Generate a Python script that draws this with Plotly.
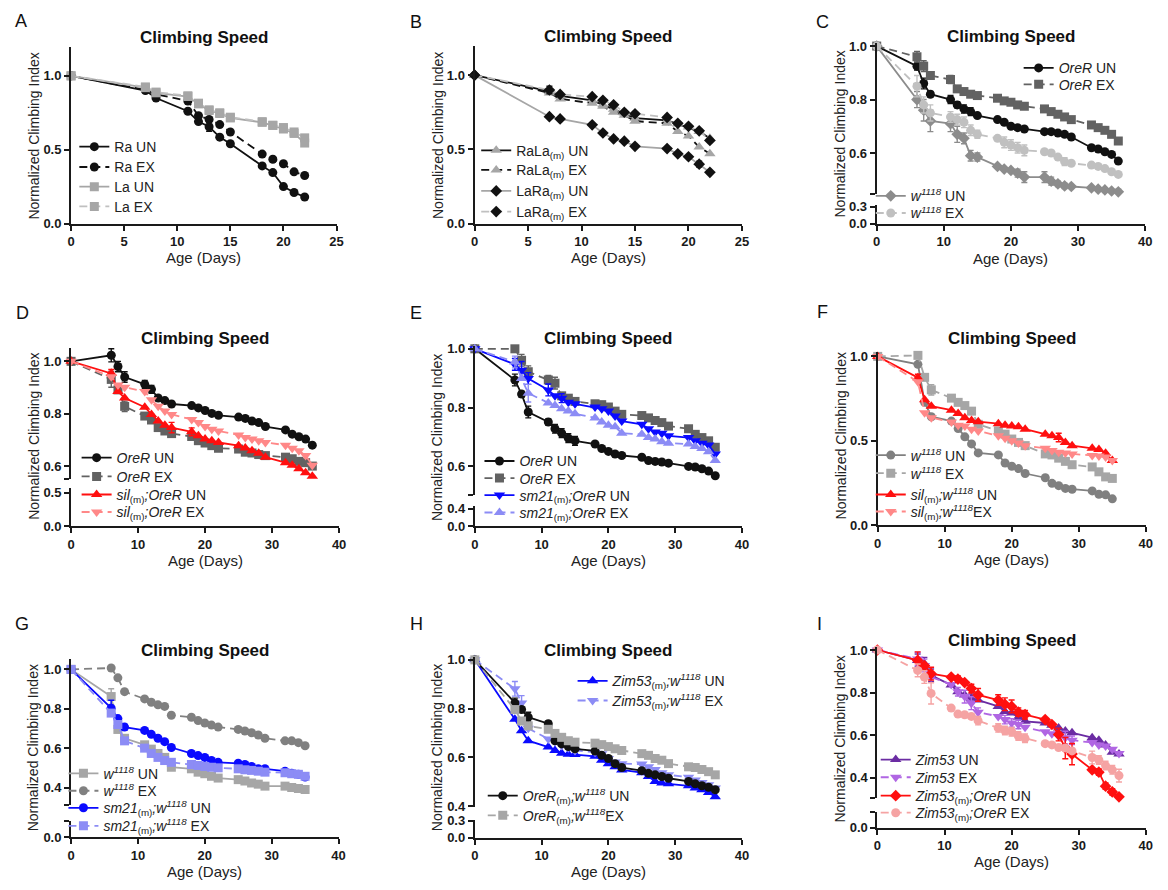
import plotly.graph_objects as go

W, H = 1168, 890
FONT = "Liberation Sans, Arial, sans-serif"

# ---------------- data ----------------
days_22 = [0, 7, 8, 11, 12, 13, 14, 15, 18, 19, 20, 21, 22]
days_36 = [0, 6, 7, 8, 11, 12, 13, 14, 15, 18, 19, 20, 21, 22, 25, 26, 27, 28, 29, 32, 33, 34, 35, 36]
days_35 = [0, 6, 7, 8, 11, 12, 13, 14, 15, 18, 19, 20, 21, 22, 25, 26, 27, 28, 29, 32, 33, 34, 35]

# A
A_ra_un = [1.0, 0.90, 0.85, 0.76, 0.69, 0.655, 0.585, 0.54, 0.39, 0.345, 0.25, 0.21, 0.18]
A_ra_ex = [1.0, 0.905, 0.875, 0.83, 0.73, 0.705, 0.67, 0.62, 0.47, 0.435, 0.405, 0.35, 0.325]
A_la_un = [1.0, 0.92, 0.885, 0.86, 0.81, 0.765, 0.745, 0.715, 0.685, 0.665, 0.64, 0.61, 0.545]
A_la_ex = [1.0, 0.925, 0.89, 0.865, 0.815, 0.77, 0.75, 0.72, 0.69, 0.665, 0.65, 0.62, 0.58]
A_ra_un_err = [0, 0, 0.01, 0, 0, 0.03, 0, 0, 0, 0, 0, 0, 0]
# B
B_rala_un = [1.0, 0.89, 0.86, 0.83, 0.80, 0.77, 0.745, 0.71, 0.695, 0.67, 0.65, 0.62, 0.575]
B_rala_ex = [1.0, 0.88, 0.84, 0.81, 0.79, 0.75, 0.73, 0.69, 0.675, 0.62, 0.59, 0.515, 0.47]
B_lara_un = [1.0, 0.72, 0.705, 0.665, 0.61, 0.57, 0.555, 0.52, 0.505, 0.47, 0.45, 0.40, 0.345]
B_lara_ex = [1.0, 0.90, 0.87, 0.855, 0.83, 0.80, 0.75, 0.74, 0.715, 0.675, 0.655, 0.625, 0.56]
B_lara_un_err = [0, 0.01, 0, 0, 0, 0, 0, 0, 0, 0, 0, 0.02, 0]
B_lara_ex_err = [0, 0.025, 0.01, 0, 0, 0.01, 0, 0, 0, 0, 0, 0.01, 0]
# C
C_orer_un = [1.0, 0.925, 0.86, 0.82, 0.80, 0.78, 0.765, 0.755, 0.74, 0.725, 0.715, 0.70, 0.695, 0.69,
             0.68, 0.68, 0.675, 0.67, 0.66, 0.62, 0.615, 0.605, 0.595, 0.57]
C_orer_ex = [1.0, 0.96, 0.925, 0.89, 0.875, 0.84, 0.83, 0.82, 0.815, 0.805, 0.795, 0.79, 0.78, 0.775,
             0.765, 0.755, 0.745, 0.735, 0.725, 0.705, 0.695, 0.685, 0.67, 0.645]
C_w_un = [1.0, 0.80, 0.76, 0.72, 0.71, 0.67, 0.655, 0.59, 0.585, 0.55, 0.54, 0.535, 0.525, 0.51,
          0.51, 0.495, 0.485, 0.477, 0.475, 0.47, 0.465, 0.462, 0.458, 0.455]
C_w_ex = [1.0, 0.85, 0.78, 0.75, 0.735, 0.725, 0.715, 0.685, 0.67, 0.655, 0.64, 0.63, 0.62, 0.61,
          0.605, 0.60, 0.585, 0.568, 0.562, 0.555, 0.55, 0.542, 0.53, 0.52]
C_orer_un_err = [0, .015, .02, .01, .015, .012, .015, .015, 0, 0, 0, 0, 0, 0, 0, 0, 0, 0, 0, 0, 0, 0, 0, 0]
C_orer_ex_err = [0, .02, .02, .012, .015, 0, 0, 0, 0, 0, 0, 0, 0, 0, 0, 0, 0, 0, 0, 0, 0, 0, 0, 0]
C_w_un_err = [0, .03, .04, .04, .03, .03, .02, .02, .015, 0, 0, 0, .015, .02, .02, .015, .01, .01, 0, 0, 0, 0, 0, .01]
C_w_ex_err = [0, .04, .03, .03, .02, .02, .02, .02, .015, 0, .02, .02, .02, .02, 0, 0, 0, .015, 0, 0, 0, 0, 0, 0]
# D
D_orer_un = [1.0, 1.023, 0.98, 0.94, 0.912, 0.893, 0.86, 0.85, 0.837, 0.831, 0.822, 0.812, 0.801, 0.794,
             0.787, 0.782, 0.772, 0.766, 0.751, 0.738, 0.722, 0.712, 0.703, 0.68]
D_orer_ex = [1.0, 0.931, 0.891, 0.828, 0.791, 0.776, 0.747, 0.734, 0.724, 0.713, 0.697, 0.688, 0.678, 0.668,
             0.665, 0.653, 0.65, 0.644, 0.64, 0.634, 0.628, 0.618, 0.613, 0.60]
D_sil_un = [1.0, 0.954, 0.885, 0.86, 0.825, 0.797, 0.772, 0.756, 0.747, 0.731, 0.716, 0.703, 0.697, 0.69,
            0.678, 0.669, 0.659, 0.649, 0.634, 0.613, 0.603, 0.59, 0.575, 0.561]
D_sil_ex = [1.0, 0.941, 0.91, 0.901, 0.885, 0.853, 0.828, 0.81, 0.797, 0.778, 0.766, 0.751, 0.741, 0.734,
            0.719, 0.709, 0.703, 0.697, 0.69, 0.68, 0.668, 0.659, 0.64, 0.603]
D_orer_un_err = [0, .025, .02, .02, .015, .015, 0, 0, 0, 0, 0, 0, 0, 0, 0, 0, 0, 0, 0, 0, 0, 0, 0, 0]
D_orer_ex_err = [0, .03, 0, .02, 0, 0, 0, 0, 0, 0, 0, 0, 0, 0, 0, 0, 0, 0, 0, 0, 0, 0, 0, 0]
D_sil_un_err = [0, .015, 0, 0, 0, 0, 0, 0, .02, .015, 0, 0, 0, 0, 0, 0, 0, 0, 0, 0, 0, 0, 0, 0]
# E
E_orer_un = [1.0, 0.894, 0.846, 0.785, 0.751, 0.728, 0.713, 0.696, 0.687, 0.676, 0.661, 0.651, 0.642, 0.637,
             0.631, 0.62, 0.617, 0.615, 0.611, 0.60, 0.598, 0.592, 0.584, 0.568]
E_orer_ex = [1.0, 1.0, 0.961, 0.922, 0.894, 0.883, 0.84, 0.832, 0.821, 0.813, 0.81, 0.802, 0.788, 0.777,
             0.773, 0.765, 0.756, 0.749, 0.737, 0.728, 0.709, 0.698, 0.687, 0.665]
E_sm_un = [1.0, 0.947, 0.927, 0.899, 0.86, 0.84, 0.832, 0.818, 0.813, 0.802, 0.796, 0.788, 0.771, 0.754,
           0.743, 0.728, 0.717, 0.713, 0.704, 0.698, 0.687, 0.679, 0.673, 0.642]
E_sm_ex = [1.0, 0.955, 0.899, 0.849, 0.816, 0.807, 0.796, 0.788, 0.779, 0.765, 0.751, 0.74, 0.735, 0.713,
           0.709, 0.698, 0.693, 0.684, 0.679, 0.676, 0.668, 0.661, 0.65, 0.62]
E_orer_un_err = [0, .02, .01, .02, .01, .015, .015, .015, .015, 0, 0, 0, 0, 0, 0, 0, 0, 0, 0, 0, 0, 0, 0, 0]
E_orer_ex_err = [0, 0, .02, .02, .015, .02, 0, 0, 0, 0, 0, 0, 0, 0, 0, 0, 0, 0, 0, 0, 0, 0, 0, 0]
E_sm_un_err = [0, .02, .03, .02, .02, 0, .015, 0, 0, 0, 0, 0, 0, 0, 0, 0, 0, 0, 0, 0, 0, 0, 0, 0]
E_sm_ex_err = [0, .02, 0, .03, 0, 0, 0, 0, 0, 0, 0, 0, 0, 0, 0, 0, 0, 0, 0, 0, 0, 0, 0, 0]
# F
F_w_un = [1.0, 0.953, 0.728, 0.643, 0.617, 0.573, 0.524, 0.482, 0.429, 0.417, 0.369, 0.35, 0.336, 0.307,
          0.282, 0.249, 0.235, 0.219, 0.214, 0.204, 0.184, 0.181, 0.157]
F_w_ex = [1.0, 1.006, 0.876, 0.802, 0.753, 0.728, 0.709, 0.676, 0.598, 0.559, 0.54, 0.511, 0.491, 0.472,
          0.423, 0.417, 0.398, 0.379, 0.359, 0.346, 0.317, 0.287, 0.278]
F_sil_un = [1.0, 0.874, 0.744, 0.705, 0.682, 0.662, 0.637, 0.621, 0.614, 0.602, 0.592, 0.588, 0.584, 0.569,
            0.54, 0.53, 0.52, 0.491, 0.472, 0.456, 0.449, 0.427, 0.384]
F_sil_ex = [1.0, 0.85, 0.666, 0.637, 0.612, 0.592, 0.588, 0.569, 0.559, 0.53, 0.515, 0.501, 0.487, 0.472,
            0.456, 0.443, 0.433, 0.429, 0.423, 0.414, 0.41, 0.404, 0.384]
F_sil_un_err = [0, .02, 0, 0, 0, 0, 0, 0, 0, 0, 0, 0, 0, 0, 0, 0, .025, 0, 0, 0, 0, 0, 0]
F_w_ex_err = [0, 0, 0, .03, 0, 0, 0, 0, 0, 0, 0, 0, 0, 0, 0, 0, 0, 0, 0, 0, 0, 0, 0]
# G
G_w_un = [1.0, 0.862, 0.695, 0.65, 0.617, 0.595, 0.573, 0.553, 0.503, 0.495, 0.478, 0.47, 0.457, 0.448,
          0.44, 0.433, 0.423, 0.417, 0.407, 0.407, 0.40, 0.395, 0.39]
G_w_ex = [1.0, 1.007, 0.957, 0.887, 0.85, 0.833, 0.82, 0.812, 0.767, 0.757, 0.74, 0.728, 0.717, 0.707,
          0.695, 0.687, 0.678, 0.667, 0.65, 0.637, 0.637, 0.628, 0.612]
G_sm_un = [1.0, 0.803, 0.75, 0.707, 0.69, 0.67, 0.65, 0.633, 0.603, 0.573, 0.562, 0.553, 0.537, 0.528,
           0.523, 0.517, 0.507, 0.495, 0.495, 0.483, 0.473, 0.467, 0.453]
G_sm_ex = [1.0, 0.778, 0.72, 0.637, 0.60, 0.573, 0.553, 0.537, 0.528, 0.517, 0.512, 0.507, 0.503, 0.50,
           0.495, 0.49, 0.487, 0.483, 0.478, 0.475, 0.47, 0.467, 0.457]
G_w_un_err = [0, .04, 0, 0, 0, 0, 0, 0, 0, 0, 0, 0, 0, 0, 0, 0, 0, 0, 0, 0, 0, 0, 0]
G_sm_un_err = [0, .04, 0, .015, 0, 0, 0, 0, 0, 0, 0, 0, 0, 0, 0, 0, 0, 0, 0, 0, 0, 0, 0]
# H
H_orer_un = [1.0, 0.823, 0.796, 0.765, 0.738, 0.668, 0.655, 0.644, 0.635, 0.626, 0.608, 0.595, 0.574, 0.558,
             0.545, 0.534, 0.528, 0.521, 0.514, 0.501, 0.491, 0.483, 0.477, 0.467]
H_orer_ex = [1.0, 0.796, 0.749, 0.729, 0.715, 0.698, 0.682, 0.668, 0.662, 0.658, 0.652, 0.644, 0.635, 0.628,
             0.615, 0.608, 0.595, 0.588, 0.574, 0.561, 0.558, 0.55, 0.541, 0.528]
H_zim_un = [1.0, 0.756, 0.709, 0.668, 0.642, 0.628, 0.617, 0.612, 0.611, 0.604, 0.588, 0.574, 0.561, 0.548,
            0.537, 0.521, 0.501, 0.494, 0.491, 0.483, 0.474, 0.467, 0.456, 0.438]
H_zim_ex = [1.0, 0.881, 0.823, 0.719, 0.675, 0.666, 0.648, 0.639, 0.628, 0.621, 0.615, 0.595, 0.581, 0.574,
            0.572, 0.561, 0.55, 0.537, 0.528, 0.518, 0.507, 0.497, 0.487, 0.474]
H_orer_un_err = [0, .02, .01, .02, .01, 0, 0, 0, 0, 0, 0, 0, 0, 0, 0, 0, 0, 0, 0, 0, 0, 0, 0, 0]
H_zim_ex_err = [0, .03, .03, 0, 0, 0, 0, 0, 0, 0, 0, 0, 0, 0, 0, 0, 0, 0, 0, 0, 0, 0, 0, 0]
# I
I_zim_un = [1.0, 0.951, 0.935, 0.881, 0.835, 0.804, 0.789, 0.773, 0.765, 0.735, 0.711, 0.704, 0.684, 0.665,
            0.657, 0.647, 0.634, 0.619, 0.611, 0.588, 0.576, 0.554, 0.519, 0.511]
I_zim_ex = [1.0, 0.958, 0.927, 0.873, 0.838, 0.804, 0.781, 0.75, 0.708, 0.688, 0.673, 0.657, 0.65, 0.637,
            0.616, 0.606, 0.596, 0.588, 0.576, 0.565, 0.554, 0.549, 0.534, 0.514]
I_zo_un = [1.0, 0.951, 0.927, 0.889, 0.873, 0.863, 0.847, 0.819, 0.789, 0.765, 0.745, 0.735, 0.708, 0.696,
           0.673, 0.65, 0.603, 0.539, 0.511, 0.437, 0.426, 0.36, 0.333, 0.31]
I_zo_ex = [1.0, 0.904, 0.873, 0.796, 0.727, 0.699, 0.696, 0.688, 0.668, 0.634, 0.622, 0.616, 0.596, 0.585,
           0.56, 0.554, 0.542, 0.539, 0.526, 0.495, 0.483, 0.457, 0.437, 0.41]
I_zim_un_err = [0, .03, .03, .03, 0, 0, 0, .02, 0, 0, 0, 0, 0, 0, 0, 0, 0, 0, 0, 0, 0, 0, 0, 0]
I_zim_ex_err = [0, .03, .03, 0, 0, .02, .03, .03, .02, 0, .02, .02, .02, 0, 0, 0, 0, .03, .02, 0, 0, 0, 0, 0]
I_zo_un_err = [0, .04, 0, .03, 0, .015, 0, .02, .03, .025, .03, .03, .02, .02, 0, 0, .03, .05, .05, 0, .015, .015, .015, 0]
I_zo_ex_err = [0, .03, .03, .05, 0, 0, 0, 0, .02, .02, .02, .02, .02, .02, 0, 0, 0, 0, 0, .03, .02, .02, .02, .03]

W1118 = "<i>w</i><sup><i>1118</i></sup>"

# ---------------- styling / geometry ----------------
BLK, DG, G1, G2, G3 = "#111111", "#626262", "#808080", "#a6a6a6", "#c0c0c0"
RED, LRED = "#ff0f0f", "#ff8888"
BLU, LBLU = "#0a0aff", "#8c8cf5"
PUR, LPUR, PINK = "#6b2ca3", "#b066e3", "#f5a3a3"
DASH = "8px,5px"

# series tuple: (label, x, y, err, marker color, line color, symbol, dash, (legend text x px, legend row y px))
panels = [
    dict(letter="A", lpos=(17, 15), x0=67.7, x1=335.7, xmax=25, dx=5, title_y=32,
         up=(41.7, 221.0, 0.0, 1.195, [0, 0.5, 1.0], ["0.0", "0.5", "1.0"]), low=None,
         ytitle_y=131.7, xtitle_y=256,
         series=[("Ra UN", days_22, A_ra_un, A_ra_un_err, BLK, BLK, "circle", "solid", (111, 143.3)),
                 ("Ra EX", days_22, A_ra_ex, None, BLK, BLK, "circle", DASH, (111, 164)),
                 ("La UN", days_22, A_la_un, None, G2, G2, "square", "solid", (111, 184)),
                 ("La EX", days_22, A_la_ex, None, G2, G3, "square", DASH, (111, 204))]),
    dict(letter="B", lpos=(416, 16), x0=475.0, x1=745.0, xmax=25, dx=5, title_y=31,
         up=(41.0, 221.0, 0.0, 1.194, [0, 0.5, 1.0], ["0.0", "0.5", "1.0"]), low=None,
         ytitle_y=131.7, xtitle_y=256,
         series=[("RaLa<sub>(m)</sub> UN", days_22, B_rala_un, None, G2, BLK, "triangle-up", "solid", (516.7, 147)),
                 ("RaLa<sub>(m)</sub> EX", days_22, B_rala_ex, None, G2, BLK, "triangle-up", DASH, (516.7, 167)),
                 ("LaRa<sub>(m)</sub> UN", days_22, B_lara_un, B_lara_un_err, BLK, G2, "diamond", "solid", (516.7, 188.3)),
                 ("LaRa<sub>(m)</sub> EX", days_22, B_lara_ex, B_lara_ex_err, BLK, G3, "diamond", DASH, (516.7, 209.3))]),
    dict(letter="C", lpos=(826.7, 16.7), x0=881.0, x1=1152.0, xmax=40, dx=10, title_y=31,
         up=(38.0, 190.7, 0.448, 1.01, [0.448, 0.6, 0.8, 1.0], ["", "0.6", "0.8", "1.0"]),
         low=(201.7, 221.0, 0.0, 0.34, [0, 0.3], ["0.0", "0.3"]),
         ytitle_y=130, xtitle_y=256.7,
         series=[("<i>OreR</i> UN", days_36, C_orer_un, C_orer_un_err, BLK, BLK, "circle", "solid", (1064.3, 63.3)),
                 ("<i>OreR</i> EX", days_36, C_orer_ex, C_orer_ex_err, DG, DG, "square", DASH, (1064.3, 80)),
                 (W1118 + " UN", days_36, C_w_un, C_w_un_err, "#8c8c8c", "#8c8c8c", "diamond", "solid", (915, 193.3)),
                 (W1118 + " EX", days_36, C_w_ex, C_w_ex_err, G3, G3, "circle", DASH, (915, 210.7))]),
    dict(letter="D", lpos=(18.3, 311.7), x0=67.7, x1=338.3, xmax=40, dx=10, title_y=338.3,
         up=(347.3, 481.0, 0.549, 1.0515, [0.549, 0.6, 0.8, 1.0], ["", "0.6", "0.8", "1.0"]),
         low=(490.0, 528.3, 0.0, 0.563, [0, 0.5], ["0.0", "0.5"]),
         ytitle_y=436.7, xtitle_y=563.3,
         series=[("<i>OreR</i> UN", days_36, D_orer_un, D_orer_un_err, BLK, BLK, "circle", "solid", (113.3, 459.3)),
                 ("<i>OreR</i> EX", days_36, D_orer_ex, D_orer_ex_err, DG, DG, "square", DASH, (113.3, 478.3)),
                 ("<i>sil</i><sub>(m)</sub><i>;OreR</i> UN", days_36, D_sil_un, D_sil_un_err, RED, RED, "triangle-up", "solid", (113.3, 496.7)),
                 ("<i>sil</i><sub>(m)</sub><i>;OreR</i> EX", days_36, D_sil_ex, None, LRED, LRED, "triangle-down", DASH, (113.3, 514.5))]),
    dict(letter="E", lpos=(416, 311.7), x0=475.3, x1=745.0, xmax=40, dx=10, title_y=338.3,
         up=(345.0, 497.3, 0.501, 1.011, [0.501, 0.6, 0.8, 1.0], ["", "0.6", "0.8", "1.0"]),
         low=(508.3, 528.3, 0.0, 0.4545, [0, 0.4], ["0.0", "0.4"]),
         ytitle_y=438.3, xtitle_y=563.3,
         series=[("<i>OreR</i> UN", days_36, E_orer_un, E_orer_un_err, BLK, BLK, "circle", "solid", (520, 462.7)),
                 ("<i>OreR</i> EX", days_36, E_orer_ex, E_orer_ex_err, DG, DG, "square", DASH, (520, 480)),
                 ("<i>sm21</i><sub>(m)</sub><i>;OreR</i> UN", days_36, E_sm_un, E_sm_un_err, BLU, BLU, "triangle-down", "solid", (520, 497.3)),
                 ("<i>sm21</i><sub>(m)</sub><i>;OreR</i> EX", days_36, E_sm_ex, E_sm_ex_err, LBLU, LBLU, "triangle-up", DASH, (520, 515))]),
    dict(letter="F", lpos=(826.7, 310.7), x0=882.0, x1=1152.7, xmax=40, dx=10, title_y=338,
         up=(351.7, 527.7, 0.0, 1.025, [0, 0.5, 1.0], ["0.0", "0.5", "1.0"]), low=None,
         ytitle_y=436.7, xtitle_y=562.7,
         series=[(W1118 + " UN", days_35, F_w_un, None, G1, G1, "circle", "solid", (915, 456.7)),
                 (W1118 + " EX", days_35, F_w_ex, F_w_ex_err, G2, G2, "square", DASH, (915, 475)),
                 ("<i>sil</i><sub>(m)</sub><i>;</i>" + W1118 + " UN", days_35, F_sil_un, F_sil_un_err, RED, RED, "triangle-up", "solid", (915, 496.7)),
                 ("<i>sil</i><sub>(m)</sub><i>;</i>" + W1118 + "EX", days_35, F_sil_ex, None, LRED, LRED, "triangle-down", DASH, (915, 514))]),
    dict(letter="G", lpos=(18.3, 628.3), x0=67.7, x1=337.7, xmax=40, dx=10, title_y=654.3,
         up=(663.3, 812.0, 0.31, 1.0535, [0.31, 0.4, 0.6, 0.8, 1.0], ["", "0.4", "0.6", "0.8", "1.0"]),
         low=(827.7, 844.3, 0.0, 0.25, [0, 0.25], ["0.0", ""]),
         ytitle_y=753.3, xtitle_y=879.3,
         series=[(W1118 + " UN", days_35, G_w_un, G_w_un_err, G2, G2, "square", "solid", (100, 780)),
                 (W1118 + " EX", days_35, G_w_ex, None, G1, G1, "circle", DASH, (100, 797.7)),
                 ("<i>sm21</i><sub>(m)</sub><i>;</i>" + W1118 + " UN", days_35, G_sm_un, G_sm_un_err, BLU, BLU, "circle", "solid", (100, 815)),
                 ("<i>sm21</i><sub>(m)</sub><i>;</i>" + W1118 + " EX", days_35, G_sm_ex, None, LBLU, LBLU, "square", DASH, (100, 833.3))]),
    dict(letter="H", lpos=(416, 628.3), x0=475.3, x1=745.0, xmax=40, dx=10, title_y=654.3,
         up=(661.7, 813.3, 0.398, 1.0105, [0.4, 0.6, 0.8, 1.0], ["0.4", "0.6", "0.8", "1.0"]),
         low=(826.7, 845.0, 0.0, 0.317, [0, 0.3], ["0.0", "0.3"]),
         ytitle_y=753.3, xtitle_y=879.3,
         series=[("<i>Zim53</i><sub>(m)</sub><i>;</i>" + W1118 + " UN", days_36, H_zim_un, None, BLU, BLU, "triangle-up", "solid", (614, 686)),
                 ("<i>Zim53</i><sub>(m)</sub><i>;</i>" + W1118 + " EX", days_36, H_zim_ex, H_zim_ex_err, LBLU, LBLU, "triangle-down", DASH, (614, 706)),
                 ("<i>OreR</i><sub>(m)</sub><i>;</i>" + W1118 + " UN", days_36, H_orer_un, H_orer_un_err, BLK, BLK, "circle", "solid", (523.3, 802.7)),
                 ("<i>OreR</i><sub>(m)</sub><i>;</i>" + W1118 + "EX", days_36, H_orer_ex, None, G2, G2, "square", DASH, (523.3, 822.7))]),
    dict(letter="I", lpos=(823.3, 628.3), x0=881.7, x1=1152.7, xmax=40, dx=10, title_y=645,
         up=(651.7, 805.0, 0.303, 1.012, [0.303, 0.4, 0.6, 0.8, 1.0], ["", "0.4", "0.6", "0.8", "1.0"]),
         low=(818.7, 835.0, 0.0, 0.25, [0, 0.25], ["0.0", ""]),
         ytitle_y=745, xtitle_y=869.3,
         series=[("<i>Zim53</i> UN", days_36, I_zim_un, I_zim_un_err, PUR, PUR, "triangle-up", "solid", (920, 766)),
                 ("<i>Zim53</i> EX", days_36, I_zim_ex, I_zim_ex_err, LPUR, LPUR, "triangle-down", DASH, (920, 784)),
                 ("<i>Zim53</i><sub>(m)</sub><i>;OreR</i> UN", days_36, I_zo_un, I_zo_un_err, RED, RED, "diamond", "solid", (920, 802.7)),
                 ("<i>Zim53</i><sub>(m)</sub><i>;OreR</i> EX", days_36, I_zo_ex, I_zo_ex_err, PINK, PINK, "circle", DASH, (920, 820))]),
]

AXC = "#1a1a1a"
axis_common = dict(showgrid=False, zeroline=False, showline=True, linecolor=AXC, linewidth=2,
                   ticks="outside", ticklen=5, tickwidth=2, tickcolor=AXC, fixedrange=True,
                   tickfont=dict(family=FONT, size=13, color=AXC, weight="bold"))


def key(kind, n):
    return f"{kind}axis" if n == 1 else f"{kind}axis{n}"


def ref(kind, n):
    return kind if n == 1 else f"{kind}{n}"


def fx(px):
    return px / W


def fy(py):
    return 1 - py / H


fig = go.Figure()
layout = {}
annotations = []
legend_no = 0
low_no = 9

for k, p in enumerate(panels, start=1):
    top, bot, lo, hi, tv, tt = p["up"]
    low = p["low"]
    if low is not None:
        low_no += 1
        lt, lb, llo, lhi, ltv, ltt = low
        layout[key("y", low_no)] = dict(axis_common, domain=[fy(lb), fy(lt)], range=[llo, lhi],
                                        tickvals=ltv, ticktext=ltt, anchor=ref("x", k))
        x_anchor = ref("y", low_no)
        # empty carrier trace so the lower axis segment is created
        fig.add_trace(go.Scatter(x=[None], y=[None], mode="markers", showlegend=False,
                                 hoverinfo="skip", xaxis=ref("x", k), yaxis=ref("y", low_no)))
    else:
        x_anchor = ref("y", k)
    layout[key("x", k)] = dict(axis_common, domain=[fx(p["x0"]), fx(p["x1"])], range=[0, p["xmax"]],
                               dtick=p["dx"], tick0=0, anchor=x_anchor)
    layout[key("y", k)] = dict(axis_common, domain=[fy(bot), fy(top)], range=[lo, hi],
                               tickvals=tv, ticktext=tt, anchor=ref("x", k))

    for (label, xs, ys, err, mc, lc, sym, dash, (tx, ry)) in p["series"]:
        legend_no += 1
        lname = "legend" if legend_no == 1 else f"legend{legend_no}"
        layout[lname] = dict(x=fx(tx - 40), y=fy(ry), xanchor="left", yanchor="middle",
                             bgcolor="rgba(0,0,0,0)", borderwidth=0,
                             font=dict(family=FONT, size=14, color="#222"),
                             itemwidth=30, tracegroupgap=0)
        tr = dict(x=xs, y=ys, mode="lines+markers", name=label,
                  xaxis=ref("x", k), yaxis=ref("y", k), legend=lname,
                  line=dict(color=lc, width=1.8, dash=dash),
                  marker=dict(color=mc, symbol=sym, size=9 if "triangle" not in sym else 10,
                              line=dict(width=0)),
                  cliponaxis=False)
        if err is not None:
            tr["error_y"] = dict(type="data", array=err, visible=True, color=mc,
                                 thickness=1.4, width=3)
        fig.add_trace(go.Scatter(**tr))

    xc = (p["x0"] + p["x1"]) / 2
    annotations += [
        dict(text=p["letter"], x=fx(p["lpos"][0]), y=fy(p["lpos"][1]), xref="paper", yref="paper",
             showarrow=False, xanchor="center", yanchor="middle",
             font=dict(family=FONT, size=18, color="#111")),
        dict(text="Climbing Speed", x=fx(xc), y=fy(p["title_y"]), xref="paper", yref="paper",
             showarrow=False, xanchor="center", yanchor="middle",
             font=dict(family=FONT, size=17, color="#111", weight="bold")),
        dict(text="Normalized Climbing Index", x=fx(p["x0"] - 37.5), y=fy(p["ytitle_y"]),
             xref="paper", yref="paper", showarrow=False, textangle=-90,
             xanchor="center", yanchor="middle", font=dict(family=FONT, size=14, color="#222")),
        dict(text="Age (Days)", x=fx(xc), y=fy(p["xtitle_y"]), xref="paper", yref="paper",
             showarrow=False, xanchor="center", yanchor="middle",
             font=dict(family=FONT, size=15, color="#222")),
    ]

fig.update_layout(layout)
fig.update_layout(width=W, height=H, autosize=False, margin=dict(l=0, r=0, t=0, b=0),
                  paper_bgcolor="white", plot_bgcolor="white", annotations=annotations,
                  font=dict(family=FONT), showlegend=True)

fig.write_html("out.html", config={"displayModeBar": False},
               post_script="document.body.style.margin='0';document.body.style.overflow='hidden';")
